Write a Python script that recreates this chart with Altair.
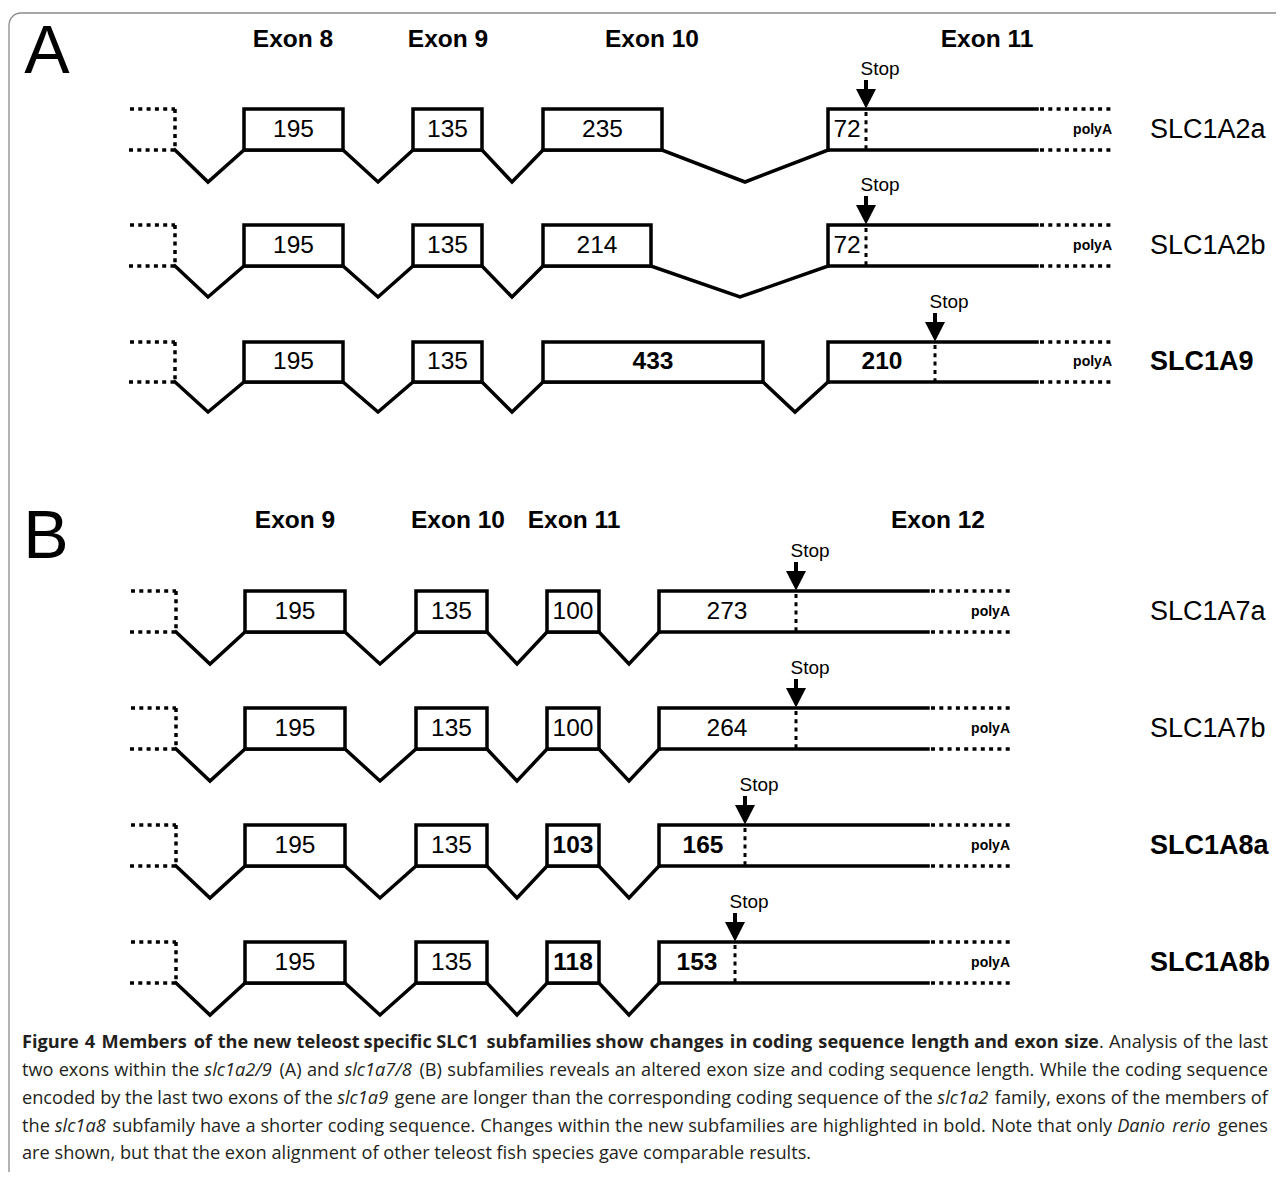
import altair as alt
import pandas as pd

W, H = 1268, 1164
XS = alt.Scale(domain=[8, 8 + W], nice=False, zero=False)
YS = alt.Scale(domain=[8, 8 + H], nice=False, zero=False, reverse=True)

SANS = "'Liberation Sans', Arial, sans-serif"
CAP = "'Open Sans', 'Noto Sans', sans-serif"

F, T = False, True

# ---------------- diagram data ----------------
gene_names = ["SLC1A2a", "SLC1A2b", "SLC1A9", "SLC1A7a", "SLC1A7b", "SLC1A8a", "SLC1A8b"]
gene_bold = [F, F, T, F, F, T, T]
row_top = [109, 225, 342, 591, 708, 825, 942]
row_bottom = [150, 266, 382, 632, 749, 866, 983]
stub_left = [130, 130, 130, 131, 131, 131, 131]
stub_right = [175, 175, 175, 176, 176, 176, 176]
exon_start = [[244, 413, 543], [244, 413, 543], [244, 413, 543],
              [245, 416, 547], [245, 416, 547], [245, 416, 547], [245, 416, 547]]
exon_end = [[343, 482, 662], [343, 482, 651], [343, 482, 763],
            [345, 487, 599], [345, 487, 599], [345, 487, 599], [345, 487, 599]]
exon_size = [["195", "135", "235"], ["195", "135", "214"], ["195", "135", "433"],
             ["195", "135", "100"], ["195", "135", "100"], ["195", "135", "103"],
             ["195", "135", "118"]]
exon_size_bold = [[F, F, F], [F, F, F], [F, F, T], [F, F, F], [F, F, F], [F, F, T], [F, F, T]]
intron_tip_x = [[208, 378, 512, 745], [208, 378, 512, 740], [208, 378, 512, 795],
                [210, 380, 517, 629], [210, 380, 517, 629], [210, 380, 517, 629],
                [210, 380, 517, 629]]
intron_depth = [32, 31, 30, 32, 32, 32, 32]
last_start = [828, 828, 828, 659, 659, 659, 659]
last_size = ["72", "72", "210", "273", "264", "165", "153"]
last_size_x = [847, 847, 882, 727, 727, 703, 697]
last_size_bold = [F, F, T, F, F, T, T]
stop_x = [866, 866, 935, 796, 796, 745, 735]
solid_end = [1037, 1037, 1037, 928, 928, 928, 928]
dotted_end = [1112, 1112, 1112, 1010, 1010, 1010, 1010]
gene_label_x = [1150, 1150, 1150, 1150, 1150, 1150, 1150]

hdr_text = ["Exon 8", "Exon 9", "Exon 10", "Exon 11", "Exon 9", "Exon 10", "Exon 11", "Exon 12"]
hdr_x = [293, 448, 652, 987, 295, 458, 574, 938]
hdr_y = [40, 40, 40, 40, 521, 521, 521, 521]

panel_text = ["A", "B"]
panel_x = [47, 46]
panel_y = [53, 538]

# ---------------- caption ----------------
cap_lines = [
    [("b", "Figure 4 Members of the new teleost specific SLC1 subfamilies show changes in coding sequence length and exon size"),
     ("r", ". Analysis of the last")],
    [("r", "two exons within the "), ("i", "slc1a2/9"), ("r", " (A) and "), ("i", "slc1a7/8"),
     ("r", " (B) subfamilies reveals an altered exon size and coding sequence length. While the coding sequence")],
    [("r", "encoded by the last two exons of the "), ("i", "slc1a9"),
     ("r", " gene are longer than the corresponding coding sequence of the "), ("i", "slc1a2"),
     ("r", " family, exons of the members of")],
    [("r", "the "), ("i", "slc1a8"),
     ("r", " subfamily have a shorter coding sequence. Changes within the new subfamilies are highlighted in bold. Note that only "),
     ("i", "Danio rerio"), ("r", " genes")],
    [("r", "are shown, but that the exon alignment of other teleost fish species gave comparable results.")],
]
cap_y = [1043, 1071, 1099, 1127, 1154]
cap_justified = [T, T, T, T, F]
cap_left, cap_right = 22, 1268
cap_size = 18.2

# approximate glyph advance widths (em) used only for word placement
_w = {' ': 0.26, '.': 0.27, ',': 0.25, '(': 0.30, ')': 0.30, '/': 0.37,
      'a': 0.556, 'b': 0.613, 'c': 0.476, 'd': 0.613, 'e': 0.561, 'f': 0.339, 'g': 0.548,
      'h': 0.614, 'i': 0.253, 'j': 0.253, 'k': 0.525, 'l': 0.253, 'm': 0.93, 'n': 0.614,
      'o': 0.604, 'p': 0.613, 'q': 0.613, 'r': 0.408, 's': 0.477, 't': 0.353, 'u': 0.614,
      'v': 0.501, 'w': 0.778, 'x': 0.524, 'y': 0.502, 'z': 0.477,
      'I': 0.30, 'M': 0.90, 'W': 0.92, 'L': 0.54, 'S': 0.55, 'C': 0.63, 'F': 0.56,
      'A': 0.63, 'B': 0.65, 'D': 0.73, 'N': 0.76, 'R': 0.63}
_style_f = {"r": 1.0, "b": 1.07, "i": 1.0}


def cw(c, st):
    if c.isdigit():
        base = 0.572
    else:
        base = _w.get(c, 0.65)
    return base * _style_f[st] * cap_size


cap_rows = []
for li, segs in enumerate(cap_lines):
    chars = [(c, st) for st, s in segs for c in s]
    natural = sum(cw(c, st) for c, st in chars)
    nspace = sum(1 for c, _ in chars if c == ' ')
    extra = (cap_right - cap_left - natural) / nspace if (cap_justified[li] and nspace) else 0
    x = cap_left
    cur, cur_x, cur_st = "", None, None
    for c, st in chars:
        if c == ' ':
            if cur:
                cap_rows.append(dict(x=cur_x, y=cap_y[li], text=cur, style=cur_st))
            cur = ""
            x += cw(c, st) + extra
            continue
        if cur and st != cur_st:
            cap_rows.append(dict(x=cur_x, y=cap_y[li], text=cur, style=cur_st))
            cur = ""
        if not cur:
            cur_x, cur_st = x, st
        cur += c
        x += cw(c, st)
    if cur:
        cap_rows.append(dict(x=cur_x, y=cap_y[li], text=cur, style=cur_st))
cap_df = pd.DataFrame(cap_rows)

# ---------------- build tables ----------------
rects, paths, dots, shafts, heads, labels = [], [], [], [], [], []
pid = 0
for g in range(len(gene_names)):
    t, b = row_top[g], row_bottom[g]
    mid = (t + b) / 2
    for k in range(3):
        rects.append(dict(x=exon_start[g][k], x2=exon_end[g][k], y=t, y2=b))
        labels.append(dict(x=(exon_start[g][k] + exon_end[g][k]) / 2, y=mid, text=exon_size[g][k],
                           kind="numb" if exon_size_bold[g][k] else "num"))
    starts = [stub_right[g]] + exon_end[g]
    ends = exon_start[g] + [last_start[g]]
    pts = []
    for k in range(4):
        pts += [(starts[k], b), (intron_tip_x[g][k], b + intron_depth[g]), (ends[k], b)]
    pts.append((solid_end[g], b))
    for o, (px, py) in enumerate(pts):
        paths.append(dict(pid=pid, o=o, x=px, y=py))
    pid += 1
    for o, (px, py) in enumerate([(last_start[g], b), (last_start[g], t), (solid_end[g], t)]):
        paths.append(dict(pid=pid, o=o, x=px, y=py))
    pid += 1
    dots += [dict(x=stub_left[g], x2=stub_right[g], y=t, y2=t, w=3.5),
             dict(x=stub_right[g], x2=stub_right[g], y=t, y2=b, w=3.5),
             dict(x=stub_left[g] - 1, x2=stub_right[g], y=b, y2=b, w=3.5),
             dict(x=solid_end[g] + 3, x2=dotted_end[g], y=t, y2=t, w=3.5),
             dict(x=solid_end[g] + 3, x2=dotted_end[g], y=b, y2=b, w=3.5),
             dict(x=stop_x[g], x2=stop_x[g], y=t + 3, y2=b, w=3.0)]
    shafts.append(dict(x=stop_x[g], y=t - 29, y2=t - 17))
    heads.append(dict(x=stop_x[g], y=t - 10))
    labels.append(dict(x=last_size_x[g], y=mid, text=last_size[g], kind="numb" if last_size_bold[g] else "num"))
    labels.append(dict(x=stop_x[g] + 14, y=t - 40, text="Stop", kind="stop"))
    labels.append(dict(x=dotted_end[g], y=mid, text="polyA", kind="polya"))
    labels.append(dict(x=gene_label_x[g], y=mid, text=gene_names[g], kind="geneb" if gene_bold[g] else "gene"))

for i in range(len(hdr_text)):
    labels.append(dict(x=hdr_x[i], y=hdr_y[i], text=hdr_text[i], kind="hdr"))
for i in range(len(panel_text)):
    labels.append(dict(x=panel_x[i], y=panel_y[i], text=panel_text[i], kind="panel"))

rect_df = pd.DataFrame(rects)
path_df = pd.DataFrame(paths)
dot_df = pd.DataFrame(dots)
shaft_df = pd.DataFrame(shafts)
head_df = pd.DataFrame(heads)
lab_df = pd.DataFrame(labels)
frame_df = pd.DataFrame([dict(x=9, x2=1300, y=13, y2=1182)])


def X(f="x"):
    return alt.X(f + ":Q", scale=XS, axis=None)


def Y(f="y"):
    return alt.Y(f + ":Q", scale=YS, axis=None)


frame = alt.Chart(frame_df).mark_rect(fill="white", stroke="#8a8a8a", strokeWidth=1.3,
                                      cornerRadius=12).encode(x=X(), x2="x2:Q", y=Y(), y2="y2:Q")

path_layer = alt.Chart(path_df).mark_line(color="black", strokeWidth=3.5, strokeJoin="miter",
                                          strokeCap="square", strokeMiterLimit=10).encode(
    x=X(), y=Y(), detail="pid:N", order=alt.Order("o:Q"))

rect_layer = alt.Chart(rect_df).mark_rect(fill="white", stroke="black", strokeWidth=3.5,
                                          strokeJoin="miter").encode(
    x=X(), x2="x2:Q", y=Y(), y2="y2:Q")

dot_layer = alt.Chart(dot_df).mark_rule(color="black", strokeDash=[4, 4.3]).encode(
    x=X(), x2="x2:Q", y=Y(), y2="y2:Q", strokeWidth=alt.StrokeWidth("w:Q", scale=None))

shaft_layer = alt.Chart(shaft_df).mark_rule(color="black", strokeWidth=4).encode(
    x=X(), y=Y(), y2="y2:Q")

head_layer = alt.Chart(head_df).mark_point(shape="M -1 -1 L 1 -1 L 0 0.95 Z", size=400, filled=True,
                                           fill="black", opacity=1, strokeWidth=0).encode(
    x=X(), y=Y())


def text_layer(df, kind, **props):
    return alt.Chart(df).transform_filter(alt.datum.kind == kind).mark_text(
        color="black", baseline="middle", **props).encode(x=X(), y=Y(), text="text:N")


t_num = text_layer(lab_df, "num", font=SANS, fontSize=24.5)
t_numb = text_layer(lab_df, "numb", font=SANS, fontSize=24.5, fontWeight="bold")
t_stop = text_layer(lab_df, "stop", font=SANS, fontSize=19)
t_polya = text_layer(lab_df, "polya", font=SANS, fontSize=14, fontWeight="bold", align="right")
t_gene = text_layer(lab_df, "gene", font=SANS, fontSize=27, align="left")
t_geneb = text_layer(lab_df, "geneb", font=SANS, fontSize=27, fontWeight="bold", align="left")
t_hdr = text_layer(lab_df, "hdr", font=SANS, fontSize=24.5, fontWeight="bold")
t_panel = text_layer(lab_df, "panel", font=SANS, fontSize=68)


def cap_layer(style, **props):
    return alt.Chart(cap_df).transform_filter(alt.datum.style == style).mark_text(
        color="#231f20", baseline="middle", align="left", font=CAP, fontSize=cap_size, **props).encode(
        x=X(), y=Y(), text="text:N")


c_r = cap_layer("r")
c_b = cap_layer("b", fontWeight="bold")
c_i = cap_layer("i", fontStyle="italic")

chart = alt.layer(frame, path_layer, rect_layer, dot_layer, shaft_layer, head_layer,
                  t_num, t_numb, t_stop, t_polya, t_gene, t_geneb, t_hdr, t_panel,
                  c_r, c_b, c_i).properties(
    width=W, height=H, padding=0, autosize="none", background="white"
).configure_view(stroke=None)

chart.save("out.html", embed_options={"renderer": "svg", "actions": False})
